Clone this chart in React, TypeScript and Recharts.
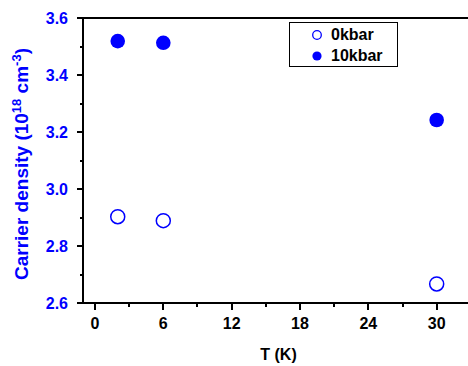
import React from 'react';
import { ScatterChart, Scatter, XAxis, YAxis } from 'recharts';

const temps0 = [2, 6, 30];
const density0kbar = [2.903, 2.889, 2.667];
const temps10 = [2, 6, 30];
const density10kbar = [3.519, 3.513, 3.242];
const xTicks = [0, 3, 6, 9, 12, 15, 18, 21, 24, 27, 30];
const yTicks = [2.6, 2.7, 2.8, 2.9, 3.0, 3.1, 3.2, 3.3, 3.4, 3.5, 3.6];
const xDomain = [-1.05, 32.75];
const yDomain = [2.6, 3.6];
const seriesNames = ['0kbar', '10kbar'];

const data0 = temps0.map((t, i) => ({ t, d: density0kbar[i] }));
const data10 = temps10.map((t, i) => ({ t, d: density10kbar[i] }));

const BLUE = '#0000ff';
const FONT = 'Arial, "Liberation Sans", Helvetica, sans-serif';

const BottomTick = (props: any) => {
  const { x, y, payload } = props;
  const v = payload.value;
  const major = Math.round(v) % 6 === 0;
  const px = Math.round(Number(x));
  const py = Math.round(Number(y));
  return (
    <g>
      <rect x={px - 1} y={py} width={2} height={major ? 7 : 4} fill="#000" />
      {major && (
        <text x={x} y={Number(y) + 26} textAnchor="middle" fontFamily={FONT} fontWeight="bold" fontSize={16} fill="#000">
          {v}
        </text>
      )}
    </g>
  );
};

const TopTick = (props: any) => {
  const { x, y } = props;
  const px = Math.round(Number(x));
  const py = Math.round(Number(y));
  return <rect x={px - 1} y={py - 1} width={2} height={4} fill="#000" />;
};

const LeftTick = (props: any) => {
  const { x, y, payload } = props;
  const v = payload.value;
  const major = Math.round(v * 10) % 2 === 0;
  const len = major ? 6 : 3;
  const px = Math.round(Number(x));
  const py = Math.round(Number(y));
  return (
    <g>
      <rect x={px - len} y={py - 1} width={len} height={2} fill="#000" />
      {major && (
        <text x={Number(x) - 15} y={Number(y) + 6} textAnchor="end" fontFamily={FONT} fontWeight="bold" fontSize={16} fill={BLUE}>
          {v.toFixed(1)}
        </text>
      )}
    </g>
  );
};

const OpenDot = (props: any) => (
  <circle cx={props.cx} cy={props.cy} r={7} fill="#fff" stroke={BLUE} strokeWidth={1.5} />
);
const FilledDot = (props: any) => (
  <circle cx={props.cx} cy={props.cy} r={7.3} fill={BLUE} stroke="none" />
);

const LegendBox = () => (
  <div
    style={{
      position: 'absolute',
      left: 289,
      top: 22,
      width: 109,
      height: 45,
      border: '1.5px solid #000',
      background: '#fff',
      fontFamily: FONT,
      fontWeight: 'bold',
      fontSize: 16,
      boxSizing: 'border-box',
    }}
  >
    <svg width={12} height={44} style={{ position: 'absolute', left: 21, top: 0 }}>
      <circle cx={6} cy={12} r={4.3} fill="#fff" stroke={BLUE} strokeWidth={1.3} />
      <circle cx={6} cy={33} r={4.6} fill={BLUE} />
    </svg>
    <div style={{ position: 'absolute', left: 41, top: 3, lineHeight: '18px' }}>{seriesNames[0]}</div>
    <div style={{ position: 'absolute', left: 41, top: 24, lineHeight: '18px' }}>{seriesNames[1]}</div>
  </div>
);

const frameLine = { position: 'absolute' as const, background: '#000' };

export default function App() {
  return (
    <div style={{ position: 'absolute', left: 0, top: 0, width: 468, height: 366, background: '#fff' }}>
      {/* backing frame under the chart's own axis lines */}
      <div style={{ ...frameLine, left: 82, top: 17, width: 2, height: 287 }} />
      <div style={{ ...frameLine, left: 82, top: 17, width: 386, height: 2 }} />
      <div style={{ ...frameLine, left: 82, top: 302, width: 386, height: 2 }} />
      <div style={{ position: 'absolute', left: 0, top: 0 }}>
        <ScatterChart width={468} height={366} margin={{ top: 18, right: 0, left: 0, bottom: 0 }}>
          <XAxis
            dataKey="t"
            type="number"
            domain={xDomain}
            ticks={xTicks}
            interval={0}
            allowDataOverflow
            height={63}
            tickSize={0}
            tickMargin={0}
            tickLine={false}
            tick={<BottomTick />}
            axisLine={{ stroke: '#000', strokeWidth: 2 }}
            label={{
              value: 'T (K)',
              position: 'insideBottom',
              offset: 6,
              dx: 3,
              style: { fontFamily: FONT, fontWeight: 'bold', fontSize: 16, fill: '#000' },
            }}
          />
          <XAxis
            xAxisId="top"
            dataKey="t"
            type="number"
            orientation="top"
            domain={xDomain}
            ticks={xTicks}
            interval={0}
            allowDataOverflow
            height={0}
            tickSize={0}
            tickMargin={0}
            tickLine={false}
            tick={<TopTick />}
            axisLine={{ stroke: '#000', strokeWidth: 2 }}
          />
          <YAxis
            dataKey="d"
            type="number"
            domain={yDomain}
            ticks={yTicks}
            interval={0}
            allowDataOverflow
            width={83}
            tickSize={0}
            tickMargin={0}
            tickLine={false}
            tick={<LeftTick />}
            axisLine={{ stroke: '#000', strokeWidth: 2 }}
          />
          <Scatter name={seriesNames[0]} data={data0} shape={<OpenDot />} isAnimationActive={false} />
          <Scatter name={seriesNames[1]} data={data10} shape={<FilledDot />} isAnimationActive={false} />
        </ScatterChart>
      </div>
      <LegendBox />
      <svg width={40} height={366} style={{ position: 'absolute', left: 0, top: 0, pointerEvents: 'none' }}>
        <text
          transform="translate(28,164) rotate(-90)"
          textAnchor="middle"
          fontFamily={FONT}
          fontWeight="bold"
          fontSize={19}
          fill={BLUE}
        >
          Carrier density (10
          <tspan dy={-7} fontSize={13}>18</tspan>
          <tspan dy={7}> cm</tspan>
          <tspan dy={-7} fontSize={13}>-3</tspan>
          <tspan dy={7}>)</tspan>
        </text>
      </svg>
    </div>
  );
}
